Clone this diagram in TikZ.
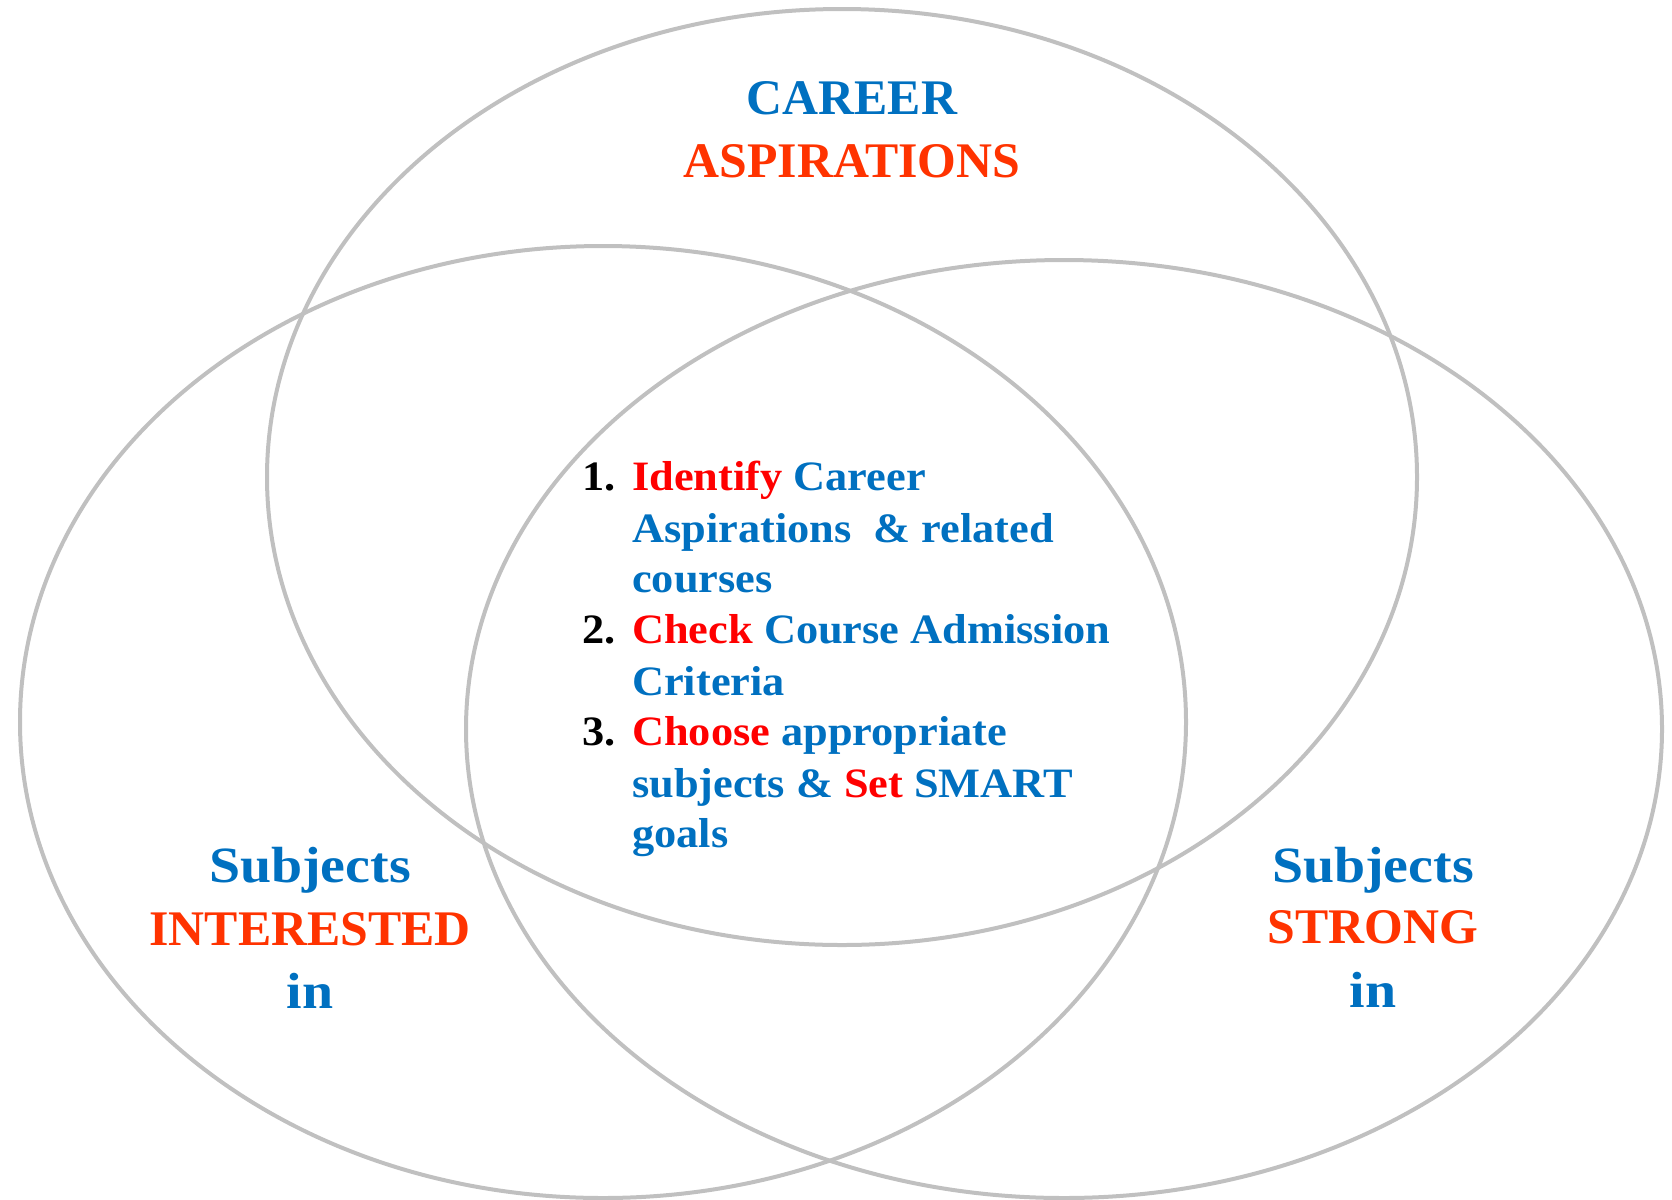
\documentclass[tikz,border=0pt]{standalone}
\usepackage{fontspec}
\setmainfont{Liberation Serif}
\newfontfamily\widefont[FakeStretch=1.06]{Liberation Serif}
\newfontfamily\widerfont[FakeStretch=1.1]{Liberation Serif}
\definecolor{cblue}{HTML}{0070C0}
\definecolor{corange}{HTML}{FF3300}
\definecolor{cred}{HTML}{FF0000}
\definecolor{cgray}{HTML}{C0C0C0}
\begin{document}
\begin{tikzpicture}[x=1bp,y=-1bp,
  ring/.style={draw=cgray,line width=4bp},
  big/.style={inner sep=0pt,anchor=base,font=\fontsize{50}{60}\selectfont\bfseries},
  bigl/.style={inner sep=0pt,anchor=base,font=\widerfont\fontsize{51}{60}\selectfont\bfseries},
  item/.style={inner sep=0pt,anchor=base west,font=\widefont\fontsize{42}{49}\selectfont\bfseries,text=cblue},
  num/.style={inner sep=0pt,anchor=base west,font=\widefont\fontsize{42}{49}\selectfont\bfseries,text=black}]
\useasboundingbox (0,0) rectangle (1672,1199);
% ellipses
\draw[ring] (842,477) ellipse [x radius=575, y radius=468];
\draw[ring] (603,722) ellipse [x radius=583, y radius=476];
\draw[ring] (1064,729) ellipse [x radius=598, y radius=469];
% top heading
\node[big,text=cblue] (car) at (852,114) {CAREER};
\node[big,text=corange] (asp) at (852,177) {ASPIRATIONS};
% left
\node[bigl,text=cblue] (lsub) at (310,882) {Subjects};
\node[big,text=corange] (lint) at (310,945) {INTERESTED};
\node[bigl,text=cblue] (lin) at (310,1008) {in};
% right
\node[bigl,text=cblue] (rsub) at (1373,882) {Subjects};
\node[big,text=corange] (rstr) at (1373,943) {STRONG};
\node[bigl,text=cblue] (rin) at (1373,1007) {in};
% list
\node[num] (n1) at (582,490) {1.};
\node[item] (l1) at (632,490) {\textcolor{cred}{Identify} Career};
\node[item] (l2) at (632,542) {Aspirations \ \& related};
\node[item] (l3) at (632,592) {courses};
\node[num] (n2) at (582,643) {2.};
\node[item] (l4) at (632,643) {\textcolor{cred}{Check} Course Admission};
\node[item] (l5) at (632,695) {Criteria};
\node[num] (n3) at (582,745) {3.};
\node[item] (l6) at (632,745) {\textcolor{cred}{Choose} appropriate};
\node[item] (l7) at (632,797) {subjects \& \textcolor{cred}{Set} SMART};
\node[item] (l8) at (632,847) {goals};
\end{tikzpicture}
\end{document}
